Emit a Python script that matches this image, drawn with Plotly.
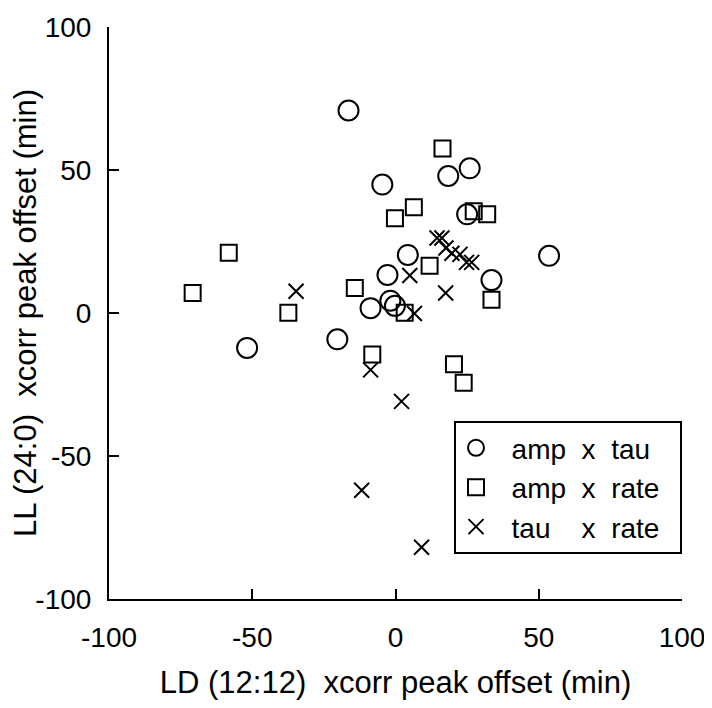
import plotly.graph_objects as go

# amp x tau (circles)
amp_tau_x = [-16.4, -4.6, 18.4, 25.9, 25.0, 4.3, 53.6, -2.8, 33.5, -1.8, -0.2, -8.7, -20.3, -51.8]
amp_tau_y = [70.8, 44.9, 47.9, 50.6, 34.5, 20.3, 20.0, 13.3, 11.5, 4.3, 2.5, 1.7, -9.2, -12.2]

# amp x rate (squares)
amp_rate_x = [16.4, -0.2, 6.4, 27.3, 32.0, -58.2, -70.8, -37.4, -14.2, 11.9, 33.5, 3.2, -8.1, 20.4, 23.8]
amp_rate_y = [57.5, 33.1, 37.0, 35.6, 34.5, 21.1, 7.0, 0.1, 8.7, 16.5, 4.6, 0.1, -14.5, -17.9, -24.4]

# tau x rate (crosses)
tau_rate_x = [14.5, 16.2, 17.6, 19.7, 22.5, 24.8, 26.6, 5.0, 17.5, 6.6, -34.7, -8.7, 2.1, -11.8, 9.1]
tau_rate_y = [26.2, 26.2, 22.7, 20.9, 20.5, 17.7, 17.7, 13.1, 7.0, -0.2, 7.6, -19.9, -30.9, -62.0, -81.9]

tick_vals = [-100, -50, 0, 50, 100]
tick_text = ["-100", "-50", "0", "50", "100"]

NB = "\u00a0"
names = [NB * 2 + "amp" + NB * 2 + "x" + NB * 2 + "tau" + NB * 2,
         NB * 2 + "amp" + NB * 2 + "x" + NB * 2 + "rate" + NB * 2,
         NB * 2 + "tau" + NB * 4 + "x" + NB * 2 + "rate" + NB * 2]

FONT = "Liberation Sans, Arial, Helvetica, sans-serif"

fig = go.Figure()
fig.add_trace(go.Scatter(
    x=amp_tau_x, y=amp_tau_y, mode="markers", name=names[0],
    marker=dict(symbol="circle-open", size=20, color="black",
                line=dict(color="black", width=2))))
fig.add_trace(go.Scatter(
    x=amp_rate_x, y=amp_rate_y, mode="markers", name=names[1],
    marker=dict(symbol="square-open", size=16, color="black",
                line=dict(color="black", width=2))))
fig.add_trace(go.Scatter(
    x=tau_rate_x, y=tau_rate_y, mode="markers", name=names[2],
    marker=dict(symbol="x-thin", size=15, color="black",
                line=dict(color="black", width=2))))

axis_common = dict(
    range=[-100, 100], tickmode="array", tickvals=tick_vals, ticktext=tick_text,
    showgrid=False, zeroline=False, automargin=False,
    showline=True, linecolor="black", linewidth=2,
    ticks="inside", ticklen=10, tickwidth=2, tickcolor="black",
    tickfont=dict(family=FONT, size=28, color="black"),
    mirror=False,
)

# page body has an 8px default margin, so the figure is 8px smaller
fig.update_layout(
    width=704, height=700,
    margin=dict(l=101, r=30, t=19, b=109),
    paper_bgcolor="white", plot_bgcolor="white",
    font=dict(family=FONT, color="black"),
    xaxis=dict(**axis_common,
               ticklabelstandoff=12,
               title=dict(text="LD (12:12)" + NB * 2 + "xcorr peak offset (min)",
                          font=dict(family=FONT, size=31, color="black"),
                          standoff=20)),
    yaxis=dict(**axis_common,
               ticklabelstandoff=10,
               title=dict(text="LL (24:0)" + NB * 2 + "xcorr peak offset (min)",
                          font=dict(family=FONT, size=31, color="black"),
                          standoff=14)),
    legend=dict(
        x=1.0, xanchor="right", y=0.311, yanchor="top",
        bordercolor="black", borderwidth=2, bgcolor="white",
        font=dict(family=FONT, size=28, color="black"),
        itemsizing="trace", tracegroupgap=0,
    ),
    showlegend=True,
)

fig.write_html("out.html")
